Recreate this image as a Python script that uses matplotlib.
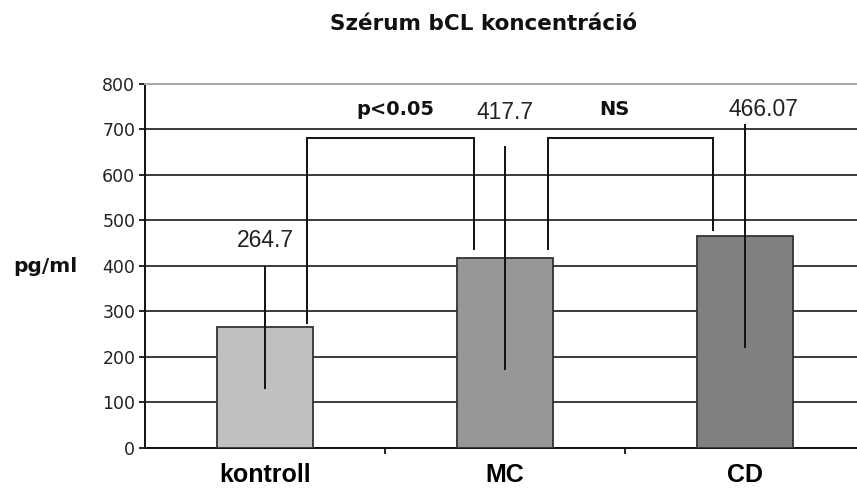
import matplotlib
matplotlib.use("Agg")
import matplotlib.pyplot as plt
from matplotlib.ticker import FixedLocator, NullFormatter

plt.rcParams['font.family'] = ['DejaVu Sans']

# Data
categories = ["kontroll", "MC", "CD"]
means = [264.7, 417.7, 466.07]
sd = [136.0, 247.0, 247.0]
value_labels = ["264.7", "417.7", "466.07"]
bar_colors = ["#c0c0c0", "#979797", "#808080"]
y_ticks = [0, 100, 200, 300, 400, 500, 600, 700, 800]

# Significance brackets: (x_left, x_right, y_top, y_left_end, y_right_end, label, label_x)
brackets = [
    (0.174, 0.871, 681, 275, 437, "p<0.05", 0.544),
    (1.178, 1.868, 681, 437, 478, "NS", 1.454),
]
value_label_pos = [(0.0, 455), (1.0, 738), (2.075, 744)]

fig = plt.figure(figsize=(8.57, 4.88), dpi=100)
ax = fig.add_axes([145 / 857, 40.3 / 488, 720 / 857, 363.7 / 488])

x = list(range(len(categories)))
ax.bar(x, means, width=0.4, color=bar_colors, edgecolor="#333333",
       linewidth=1.3, zorder=3)
ax.errorbar(x, means, yerr=sd, fmt="none", ecolor="#111111",
            elinewidth=1.4, capsize=0, zorder=4)

for (lx, ly), txt in zip(value_label_pos, value_labels):
    ax.text(lx, ly, txt, ha="center", va="center", fontsize=16.5,
            family="Liberation Sans", color="#222222", zorder=5)

for x0, x1, yt, y0, y1, lab, labx in brackets:
    ax.plot([x0, x0, x1, x1], [y0, yt, yt, y1], color="#111111",
            linewidth=1.4, zorder=4, solid_joinstyle="miter")
    ax.text(labx, 743, lab, ha="center", va="center", fontsize=14,
            fontweight="bold", color="#111111", zorder=5)

ax.set_xlim(-0.5, 2.5)
ax.set_ylim(0, 800)
ax.set_yticks(y_ticks)
ax.set_yticklabels([str(v) for v in y_ticks], fontsize=12.5, color="#222222")
ax.yaxis.grid(True, color="#1a1a1a", linewidth=1.2, zorder=0)
ax.set_axisbelow(True)

ax.set_xticks(x)
ax.set_xticklabels(categories, fontsize=18, fontweight="bold",
                   family="Liberation Sans")
ax.tick_params(axis="x", which="major", length=0, pad=11)
ax.xaxis.set_minor_locator(FixedLocator([0.5, 1.5]))
ax.xaxis.set_minor_formatter(NullFormatter())
ax.tick_params(axis="x", which="minor", length=4, width=1.2, direction="out")
ax.tick_params(axis="y", length=4, width=1.2, direction="out", pad=3)

for side in ("left", "bottom"):
    ax.spines[side].set_color("#111111")
    ax.spines[side].set_linewidth(1.4)
ax.spines["top"].set_color("#a8a8a8")
ax.spines["top"].set_linewidth(1.4)
ax.spines["right"].set_visible(False)

fig.text(484 / 857, 1 - 24 / 488, "Szérum bCL koncentráció", ha="center",
         va="center", fontsize=15.5, fontweight="bold", color="#111111")
fig.text(45 / 857, 1 - 266 / 488, "pg/ml", ha="center", va="center",
         fontsize=14.5, fontweight="bold", color="#111111")

fig.savefig("out.png", dpi=100)
